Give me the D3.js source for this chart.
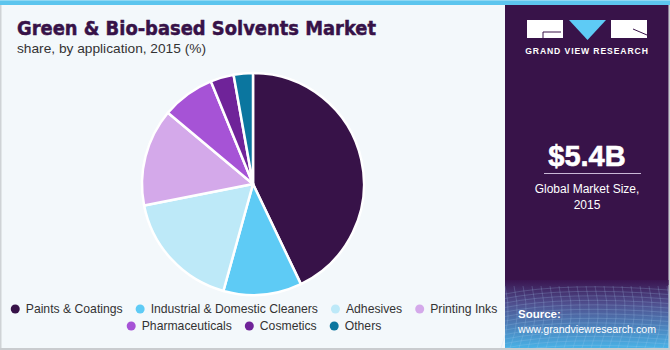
<!DOCTYPE html>
<html><head><meta charset="utf-8">
<script src="https://cdn.jsdelivr.net/npm/d3@7"></script>
<style>body{margin:0;padding:0;background:#fff}svg{display:block}</style>
</head><body>
<script>
const categories = ["Paints & Coatings","Industrial & Domestic Cleaners","Adhesives","Printing Inks","Pharmaceuticals","Cosmetics","Others"];
const shares = [42.9, 11.4, 17.6, 14.2, 7.7, 3.4, 2.8];
const colors = ["#371248","#5ecbf5","#bde9f8","#d4a9ea","#a653d6","#6f2399","#0b769f"];
const legendRows = [[0,1,2,3],[4,5,6]];

const W=670,H=350;
const svg=d3.select("body").append("svg").attr("width",W).attr("height",H);
const defs=svg.append("defs");
const g=defs.append("linearGradient").attr("id","bot").attr("x1",0).attr("y1",0).attr("x2",0).attr("y2",1);
g.append("stop").attr("offset","0%").attr("stop-color","#3a1450");
g.append("stop").attr("offset","35%").attr("stop-color","#4f4f8e");
g.append("stop").attr("offset","100%").attr("stop-color","#49b2e6");

svg.append("rect").attr("width",W).attr("height",H).attr("fill","#f3f8fb");
svg.append("rect").attr("x",0).attr("y",0).attr("width",W).attr("height",5).attr("fill","#5cc5ee");
svg.append("rect").attr("x",0).attr("y",0).attr("width",W).attr("height",1).attr("fill","#8fd8f3");
svg.append("rect").attr("x",0).attr("y",5).attr("width",1.5).attr("height",H).attr("fill","#cfd3d6");
svg.append("rect").attr("x",0).attr("y",H-2).attr("width",W).attr("height",2).attr("fill","#c9cccf");
svg.append("rect").attr("x",W-1.5).attr("y",5).attr("width",1.5).attr("height",H).attr("fill","#c9cccf");

// right panel
const px=505, pw=W-1.5-px;
svg.append("rect").attr("x",px).attr("y",5).attr("width",pw).attr("height",280).attr("fill","#381349");
svg.append("rect").attr("x",px).attr("y",280).attr("width",pw).attr("height",H-2-280).attr("fill","url(#bot)");
// mesh texture
const mesh=svg.append("g").attr("stroke","#a9cdf0").attr("stroke-opacity",0.3).attr("stroke-width",0.7).attr("fill","none");
for(let i=0;i<14;i++){
  const y0=288+i*4.5;
  mesh.append("path").attr("d",`M${px},${y0+6} Q${px+60},${y0-6} ${px+pw},${y0+2}`);
}
for(let i=0;i<20;i++){
  const x0=px+i*9;
  mesh.append("path").attr("d",`M${x0},286 Q${x0+8},318 ${x0-4},348`);
}

// logo
const lg=svg.append("g");
lg.append("rect").attr("x",527).attr("y",20).attr("width",36).attr("height",18).attr("fill","#fff");
lg.append("path").attr("d","M543,32 L561,32").attr("stroke","#381349").attr("stroke-width",1);
lg.append("path").attr("d","M543,32 L543,38").attr("stroke","#381349").attr("stroke-width",1);
lg.append("path").attr("d","M569,20 L606,20 L587.5,40 Z").attr("fill","#5ecbf5");
lg.append("rect").attr("x",611).attr("y",20).attr("width",36).attr("height",18).attr("fill","#fff");
lg.append("path").attr("d","M633,29 L647,35").attr("stroke","#381349").attr("stroke-width",1);
svg.append("text").attr("x",587).attr("y",54).attr("text-anchor","middle").attr("fill","#fff")
 .attr("font-family","Liberation Sans, Arial, sans-serif").attr("font-weight","bold").attr("font-size",8.6).attr("letter-spacing",0.9).text("GRAND VIEW RESEARCH");

svg.append("text").attr("x",587).attr("y",166).attr("text-anchor","middle").attr("fill","#fff")
 .attr("stroke","#fff").attr("stroke-width",0.6)
 .attr("font-family","Liberation Sans, Arial, sans-serif").attr("font-weight","bold").attr("font-size",29).text("$5.4B");
svg.append("line").attr("x1",544).attr("x2",641).attr("y1",173.5).attr("y2",173.5).attr("stroke","#c9b8d6").attr("stroke-width",1.2);
svg.append("text").attr("x",587).attr("y",193).attr("text-anchor","middle").attr("fill","#fff")
 .attr("font-family","Liberation Sans, Arial, sans-serif").attr("font-size",12).text("Global Market Size,");
svg.append("text").attr("x",587).attr("y",209).attr("text-anchor","middle").attr("fill","#fff")
 .attr("font-family","Liberation Sans, Arial, sans-serif").attr("font-size",12).text("2015");
svg.append("text").attr("x",518).attr("y",318).attr("fill","#fff")
 .attr("font-family","Liberation Sans, Arial, sans-serif").attr("font-weight","bold").attr("font-size",11.5).text("Source:");
svg.append("text").attr("x",518).attr("y",333).attr("fill","#fff")
 .attr("font-family","Liberation Sans, Arial, sans-serif").attr("font-size",11.5)
 .attr("textLength",138).attr("lengthAdjust","spacingAndGlyphs").text("www.grandviewresearch.com");

// title
svg.append("text").attr("x",17).attr("y",35).attr("fill","#371248").attr("stroke","#371248").attr("stroke-width",0.5)
 .attr("font-family","DejaVu Sans, sans-serif").attr("font-weight","bold").attr("font-size",19.5)
 .attr("textLength",359).attr("lengthAdjust","spacingAndGlyphs").text("Green & Bio-based Solvents Market");
svg.append("text").attr("x",17).attr("y",53).attr("fill","#333")
 .attr("font-family","Liberation Sans, Arial, sans-serif").attr("font-size",13.5)
 .attr("textLength",189).attr("lengthAdjust","spacingAndGlyphs").text("share, by application, 2015 (%)");

// pie
const cx=253, cy=184, r=111;
const pie=d3.pie().sort(null).value(d=>d)(shares);
const arc=d3.arc().innerRadius(0).outerRadius(r);
svg.append("g").attr("transform",`translate(${cx},${cy})`).selectAll("path").data(pie).join("path")
 .attr("d",arc).attr("fill",(d,i)=>colors[i]).attr("stroke","#fff").attr("stroke-width",2.5).attr("stroke-linejoin","round");

// legend
const fontL="Liberation Sans, Arial, sans-serif";
const leg=svg.append("g");
const rowY=[313,330];
const meas=svg.append("text").attr("font-family",fontL).attr("font-size",12.2).attr("visibility","hidden");
function tw(t){meas.text(t);return meas.node().getComputedTextLength();}
legendRows.forEach((row,ri)=>{
  const gap=17, pad=11;
  const widths=row.map(i=>pad+tw(categories[i]));
  const total=d3.sum(widths)+gap*(row.length-1);
  let x=252-total/2;
  row.forEach((i,k)=>{
    leg.append("circle").attr("cx",x+4.5).attr("cy",rowY[ri]-4).attr("r",4.5).attr("fill",colors[i]);
    leg.append("text").attr("x",x+pad+4).attr("y",rowY[ri]).attr("font-family",fontL).attr("font-size",12.2).attr("fill","#333").text(categories[i]);
    x+=widths[k]+gap;
  });
});
meas.remove();
</script>
</body></html>
